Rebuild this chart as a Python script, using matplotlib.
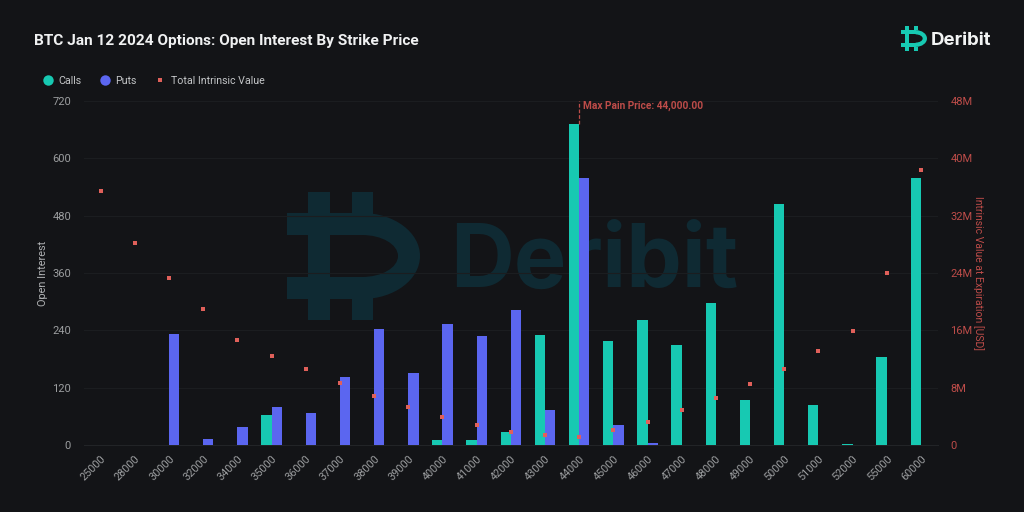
import matplotlib
matplotlib.use("Agg")
import matplotlib.pyplot as plt
import numpy as np
from matplotlib.path import Path
from matplotlib.patches import PathPatch, Rectangle
from matplotlib.lines import Line2D

strikes = ["25000","28000","30000","32000","34000","35000","36000","37000","38000","39000","40000","41000","42000",
           "43000","44000","45000","46000","47000","48000","49000","50000","51000","52000","55000","60000"]
calls = [0,0,0,0,0,63,0,0,0,0,10,11,28,230,671,218,261,209,297,94,505,84,3,184,559]
puts = [0,0,233,12,38,80,67,142,242,151,253,228,282,73,559,42,4,0,0,0,0,0,0,0,0]
intrinsic = [35.4,28.2,23.3,19.0,14.7,12.4,10.6,8.65,6.85,5.3,3.85,2.8,1.8,1.4,1.1,2.1,3.2,4.9,6.5,8.5,10.6,13.1,15.9,24.0,38.4]
oi_ticks = [0,120,240,360,480,600,720]
iv_ticks = [0,8,16,24,32,40,48]
iv_labels = ["0","8M","16M","24M","32M","40M","48M"]
max_pain_index = 14

BG = "#131417"; TEAL = "#17c9b2"; BLUE = "#5b66f0"; RED = "#e0605a"; DRED = "#bd4c49"
W, H = 1024, 512
plt.rcParams['font.family'] = ['Roboto', 'DejaVu Sans']
fig = plt.figure(figsize=(W/100, H/100), dpi=100, facecolor=BG)

bgax = fig.add_axes([0, 0, 1, 1], zorder=0)
bgax.set_xlim(0, W); bgax.set_ylim(H, 0); bgax.axis("off")

def logo(ax, x0, y0, s, color):
    """Deribit mark; geometry in a 133x128 unit box."""
    T = lambda x, y: (x0 + x*s, y0 + y*s)
    ax.add_patch(Rectangle(T(21, 0), 22*s, 128*s, fc=color, ec="none"))
    ax.add_patch(Rectangle(T(65, 0), 21*s, 22*s, fc=color, ec="none"))
    ax.add_patch(Rectangle(T(65, 106), 21*s, 22*s, fc=color, ec="none"))
    ax.add_patch(Rectangle(T(0, 21), 76*s, 22*s, fc=color, ec="none"))
    ax.add_patch(Rectangle(T(0, 85), 76*s, 22*s, fc=color, ec="none"))
    k = 0.5523
    outer = [T(75, 21), T(75+k*58, 21), T(133, 64-k*43), T(133, 64), T(133, 64+k*43), T(75+k*58, 107), T(75, 107)]
    inner = [T(75, 85), T(75+k*36, 85), T(111, 64+k*21), T(111, 64), T(111, 64-k*21), T(75+k*36, 43), T(75, 43)]
    verts = outer + inner + [T(75, 21)]
    codes = [Path.MOVETO] + [Path.CURVE4]*6 + [Path.LINETO] + [Path.CURVE4]*6 + [Path.CLOSEPOLY]
    ax.add_patch(PathPatch(Path(verts, codes), fc=color, ec="none"))

WM = "#0f2a33"
logo(bgax, 287, 192, 1.0, WM)
bgax.text(450, 287, "Deribit", color=WM, fontsize=63.5, fontweight="bold", family=["Inter", "DejaVu Sans"], va="baseline", ha="left")
logo(bgax, 901, 26, 25/128, TEAL)
bgax.text(931, 45, "Deribit", color="#f2f4f4", fontsize=13.4, fontweight="bold", family=["Inter", "DejaVu Sans"], va="baseline", ha="left")

L, R, T_, B = 83.6, 938, 101, 445
ax = fig.add_axes([L/W, 1-B/H, (R-L)/W, (B-T_)/H], zorder=1)
ax.patch.set_alpha(0)
x = np.arange(len(strikes))
bw = 0.30
ax.bar(x-bw, calls, bw, align="edge", color=TEAL, label="Calls", zorder=3)
ax.bar(x, puts, bw, align="edge", color=BLUE, label="Puts", zorder=3)
ax.set_xlim(-0.5, len(strikes)-0.5)
ax.set_ylim(0, 720)
ax.set_yticks(oi_ticks)
ax.set_xticks(x, strikes, rotation=45, ha="right", va="top", rotation_mode="anchor")
ax.tick_params(axis="x", colors="#9c9ea0", labelsize=7.8, length=0, pad=6.5)
ax.tick_params(axis="y", colors="#9c9ea0", labelsize=8, length=0, pad=9)
ax.grid(axis="y", color="#1b1d20", lw=0.8, zorder=0)
for s in ax.spines.values():
    s.set_visible(False)
ax.spines["bottom"].set_visible(True); ax.spines["bottom"].set_color("#222427"); ax.spines["bottom"].set_linewidth(0.8)
ax.set_ylabel("Open Interest", color="#b0b2b4", fontsize=7.8)
ax.yaxis.set_label_coords((48-L)/(R-L), 0.5)

ax.plot([max_pain_index, max_pain_index], [calls[max_pain_index], 720], color=DRED, lw=0.9, ls=(0, (3, 1.5)), zorder=4)
ax.text(max_pain_index+0.11, 721, "Max Pain Price: 44,000.00", color=DRED, fontsize=7.3, fontweight="bold", va="top", ha="left")

ax2 = ax.twinx()
ax2.set_ylim(0, 48)
ax2.plot(x, intrinsic, ls="none", marker="s", ms=2.3, color=RED, mew=0, label="Total Intrinsic Value", zorder=5)
ax2.set_yticks(iv_ticks, iv_labels)
ax2.tick_params(axis="y", colors=DRED, labelsize=8, length=0, pad=9)
for s in ax2.spines.values():
    s.set_visible(False)
ax2.set_ylabel("Intrinsic Value at Expiration [USD]", color=DRED, fontsize=7.5, rotation=-90, va="center")
ax2.yaxis.set_label_coords((978-L)/(R-L), 0.5)
ax.set_zorder(1); ax2.set_zorder(2)

fig.text(34/W, 1-41/H, "BTC Jan 12 2024 Options: Open Interest By Strike Price", color="#f0f1f2", fontsize=11.05, fontweight="bold", va="center", ha="left")

handles = [Line2D([], [], ls="none", marker="o", ms=7.5, color=TEAL, mew=0),
           Line2D([], [], ls="none", marker="o", ms=7.5, color=BLUE, mew=0),
           Line2D([], [], ls="none", marker="s", ms=2.8, color=RED, mew=0)]
fig.legend(handles, ["Calls", "Puts", "Total Intrinsic Value"], ncols=3, frameon=False, loc="center left",
           bbox_to_anchor=(42.5/W, 1-80.5/H), labelcolor="#c4c6c8", fontsize=7.7, handlelength=1.0,
           handletextpad=0.5, columnspacing=1.66, borderpad=0, borderaxespad=0)

fig.savefig("out.png", dpi=100, facecolor=BG)
